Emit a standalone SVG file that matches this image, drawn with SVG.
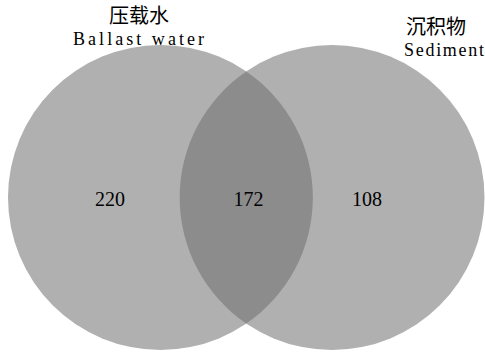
<svg xmlns="http://www.w3.org/2000/svg" width="485" height="353" viewBox="0 0 485 353">
<style>
.set{fill:#b0b0b0;}
.lens{fill:#8c8c8c;}
.num{font-family:"Liberation Serif",serif;font-size:20px;fill:#000;text-anchor:middle;}
.cjk{font-family:"Noto Sans CJK SC",sans-serif;font-size:20px;fill:#000;}
.lat{font-family:"Liberation Serif",serif;font-size:18px;fill:#000;}
</style>
<rect width="485" height="353" fill="#fff"/>
<g id="ballast">
<circle class="set" cx="160.5" cy="197.5" r="152.5"/>
<text class="cjk" x="139" y="23" text-anchor="middle">压载水</text>
<text class="lat" x="73" y="45" textLength="131" lengthAdjust="spacing">Ballast water</text>
<text class="num" x="110" y="206">220</text>
</g>
<g id="sediment">
<circle class="set" cx="332" cy="197.5" r="152.5"/>
<text class="cjk" x="406" y="34">沉积物</text>
<text class="lat" x="404" y="56" textLength="80" lengthAdjust="spacing">Sediment</text>
<text class="num" x="367" y="206">108</text>
</g>
<g id="overlap">
<path class="lens" d="M246.25 71.5 A152.5 152.5 0 0 1 246.25 323.5 A152.5 152.5 0 0 1 246.25 71.5 Z"/>
<text class="num" x="248.5" y="206">172</text>
</g>
<g id="connectors"></g>
</svg>
